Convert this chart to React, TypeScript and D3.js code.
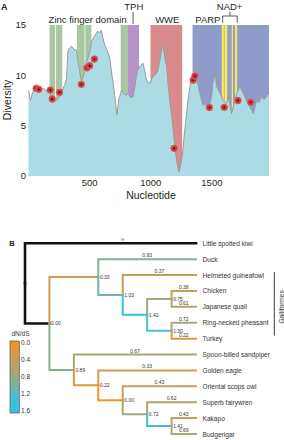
import * as d3 from "d3";

// ---- Panel A data: nucleotide diversity along the gene ----
const nucleotide = [
  0, 8, 16, 41, 57, 90, 123, 156, 172, 189, 213, 238, 262, 279, 295, 311, 322, 336, 352, 369,
  391, 402, 418, 432, 451, 467, 484, 500, 516, 541, 566, 582, 596, 607, 623, 639, 664, 680, 691,
  705, 718, 723, 738, 746, 762, 773, 795, 814, 836, 855, 869, 883, 893, 910, 937, 951, 965, 978,
  992, 1019, 1041, 1060, 1074, 1088, 1101, 1115, 1129, 1139, 1156, 1168, 1183, 1197, 1211, 1221,
  1230, 1240, 1252, 1262, 1275, 1287, 1303, 1320, 1347, 1361, 1375, 1402, 1426, 1443, 1470, 1498,
  1508, 1525, 1539, 1566, 1593, 1620, 1634, 1661, 1682, 1702, 1730, 1757, 1779, 1798, 1820, 1839,
  1866, 1885, 1907, 1926, 1948, 1967,
];
const diversity = [
  8.5, 8.0, 7.5, 8.6, 8.8, 8.5, 8.7, 8.4, 8.3, 7.8, 7.4, 7.6, 8.1, 8.6, 9.0, 9.6, 12.4, 12.7, 12.9,
  12.6, 12.5, 11.6, 10.4, 9.4, 10.0, 11.2, 11.6, 12.3, 13.4, 13.9, 14.4, 14.2, 14.5, 13.8, 13.0,
  12.6, 11.8, 10.2, 9.4, 8.0, 6.6, 6.1, 7.6, 7.9, 8.5, 8.3, 8.0, 8.2, 7.8, 7.9, 8.8, 9.9, 10.5,
  10.9, 11.2, 10.4, 9.5, 9.4, 9.2, 9.9, 10.1, 10.5, 11.5, 12.5, 13.0, 11.8, 10.9, 9.4, 7.5, 6.2,
  4.6, 3.0, 1.6, 0.9, 0.4, 0.8, 1.6, 2.5, 4.2, 5.5, 7.4, 8.9, 10.2, 9.9, 9.7, 8.2, 7.0, 7.2, 6.6,
  7.9, 9.2, 10.2, 8.9, 8.2, 7.5, 7.2, 7.9, 6.2, 7.2, 8.2, 8.9, 8.2, 7.6, 7.2, 6.6, 6.2, 7.5, 7.3,
  7.9, 7.6, 7.9, 8.2,
];

// sites under selection (red dots)
const siteNt = [63, 84, 178, 194, 254, 432, 478, 500, 539, 1191, 1347, 1361, 1480, 1601, 1713, 1817];
const siteDiv = [8.71, 8.61, 8.54, 7.65, 8.31, 9.11, 10.75, 10.95, 11.62, 2.75, 9.53, 9.93, 6.8, 6.82, 7.5, 7.32];

// protein domains
const bandStart = [172, 224, 396, 465, 754, 814, 998, 1342, 1580, 1603, 1662, 1688];
const bandEnd = [217, 276, 459, 514, 814, 904, 1257, 1967, 1598, 1626, 1673, 1706];
const bandKind = ["zinc", "zinc", "zinc", "zinc", "zinc", "tph", "wwe", "parp", "nad", "nad", "nad", "nad"];

const domainLabels = ["Zinc finger domain", "TPH", "WWE", "PARP", "NAD+"];
const domainLabelNt = [484, 861, 1135, 1467, 1645];
const domainLabelRow = [1, 0, 1, 1, 0];
const nadBracket = [1588, 1707];

const xTicksA = [500, 1000, 1500];
const yTicksA = [0, 5, 10, 15];

// ---- Panel B data: dN/dS on the bird tree ----
type Row = [string, string | null, number | null];
const cladeRows: Row[] = [
  ["root", null, null],
  ["Little spotted kiwi", "root", Infinity],
  ["n0", "root", 0.0],
  ["n1", "n0", 0.33],
  ["Duck", "n1", 0.93],
  ["n2", "n1", 1.03],
  ["Helmeted guineafowl", "n2", 0.37],
  ["n3", "n2", 1.42],
  ["n4", "n3", 0.75],
  ["Chicken", "n4", 0.38],
  ["Japanese quail", "n4", 0.61],
  ["n5", "n3", 1.3],
  ["Ring-necked pheasant", "n5", 0.72],
  ["Turkey", "n5", 0.22],
  ["n6", "n0", 0.89],
  ["Spoon-billed sandpiper", "n6", 0.67],
  ["n7", "n6", 0.22],
  ["Golden eagle", "n7", 0.33],
  ["n8", "n7", 0.0],
  ["Oriental scops owl", "n8", 0.43],
  ["n9", "n8", 0.72],
  ["Superb fairywren", "n9", 0.62],
  ["n10", "n9", 1.41],
  ["Kakapo", "n10", 0.43],
  ["Budgerigar", "n10", 0.69],
];
const galliformes = ["Helmeted guineafowl", "Turkey"];
const legendTicks = [0, 0.4, 0.8, 1.2, 1.6];

const bandColor: Record<string, string> = {
  zinc: "#a8c7a2",
  tph: "#b592c8",
  wwe: "#d98b8b",
  parp: "#8f9bc9",
  nad: "#f6ea5a",
};
const font = "'Liberation Sans', Arial, sans-serif";

const dndsColor = d3
  .scaleLinear<string>()
  .domain([0, 0.4, 0.8, 1.2, 1.6])
  .range(["#f6921e", "#c99d5a", "#9aab80", "#50bdca", "#2bc3ee"]);

function PanelA() {
  const x = d3.scaleLinear().domain([0, 1967]).range([28.5, 269]);
  const y = d3.scaleLinear().domain([0, 15]).range([176, 25]);
  const pts = nucleotide.map((n, i) => [n, diversity[i]] as [number, number]);
  const area = d3.area<[number, number]>().x((d) => x(d[0])).y0(y(0)).y1((d) => y(d[1]));
  const line = d3.line<[number, number]>().x((d) => x(d[0])).y((d) => y(d[1]));

  return (
    <g fontFamily={font} fill="#231f20">
      <text x={1} y={9.5} fontSize={9} fontWeight="bold">A</text>
      {bandStart.map((s, i) => (
        <rect key={i} x={x(s)} y={y(15)} width={x(bandEnd[i]) - x(s)} height={y(0) - y(15)}
          fill={bandColor[bandKind[i]]} />
      ))}
      <path d={area(pts) ?? ""} fill="#acdbe6" />
      <path d={line(pts) ?? ""} fill="none" stroke="#9b9b9b" strokeWidth={1} />
      {siteNt.map((n, i) => (
        <g key={i}>
          <circle cx={x(n)} cy={y(siteDiv[i])} r={3.4} fill="#d03a3a" stroke="#e26a6a" strokeWidth={0.6} />
          <circle cx={x(n)} cy={y(siteDiv[i])} r={0.9} fill="#111" />
        </g>
      ))}
      {domainLabels.map((t, i) => (
        <text key={t} x={x(domainLabelNt[i])} y={domainLabelRow[i] ? 22.7 : 10} fontSize={9.5}
          textAnchor="middle">{t}</text>
      ))}
      <line x1={x(domainLabelNt[1]) - 0.7} x2={x(domainLabelNt[1]) - 0.7} y1={12} y2={24}
        stroke="#333" strokeWidth={0.8} />
      <path
        d={`M${x(nadBracket[0])},22.7V16H${x(nadBracket[1])}V22.7M${x((nadBracket[0] + nadBracket[1]) / 2)},16V12`}
        fill="none" stroke="#333" strokeWidth={0.8} />
      {yTicksA.map((t) => (
        <text key={t} x={26} y={y(t) + 3.4} fontSize={9.5} textAnchor="end">{t}</text>
      ))}
      {xTicksA.map((t) => (
        <text key={t} x={x(t)} y={185.5} fontSize={9.5} textAnchor="middle">{t}</text>
      ))}
      <text x={151} y={199} fontSize={10.5} textAnchor="middle">Nucleotide</text>
      <text transform="translate(7,100) rotate(-90)" fontSize={10.5} textAnchor="middle"
        dominantBaseline="central">Diversity</text>
    </g>
  );
}

function PanelB() {
  const root = d3.stratify<Row>().id((d) => d[0]).parentId((d) => d[1])(cladeRows);
  d3.cluster<Row>().nodeSize([1, 1]).separation(() => 1)(root);
  const leaves = root.leaves();
  const minX = d3.min(leaves, (d) => d.x as number) as number;
  const ty = d3.scaleLinear().domain([minX, minX + leaves.length - 1]).range([243.3, 434]);
  const tx = d3.scaleLinear().domain([0, d3.max(leaves, (d) => d.y as number) as number]).range([25, 196]);
  const nodes = root.descendants().filter((d) => d.parent);
  const fmt = (v: number) => (v === Infinity ? "∞" : v.toFixed(2));
  const legendY = d3.scaleLinear().domain([0, 1.6]).range([342.6, 410.8]);
  const gy = galliformes.map((n) => ty(leaves.find((l) => l.id === n)!.x as number));

  return (
    <g fontFamily={font}>
      <defs>
        <linearGradient id="dnds" x1="0" x2="0" y1="0" y2="1">
          {legendTicks.map((t) => (
            <stop key={t} offset={t / 1.6} stopColor={dndsColor(t)} />
          ))}
        </linearGradient>
      </defs>
      <text x={9.3} y={246} fontSize={7.5} fontWeight="bold" fill="#231f20">B</text>
      {nodes.map((d) => {
        const p = d.parent!;
        const black = p.parent === null;
        return (
          <path key={d.id}
            d={`M${tx(p.y as number)},${ty(p.x as number)}V${ty(d.x as number)}H${tx(d.y as number)}`}
            fill="none" stroke={black ? "#111" : dndsColor(d.data[2] as number)}
            strokeWidth={black ? 2.6 : 2} strokeLinecap="square" />
        );
      })}
      {nodes.map((d) => {
        const p = d.parent!;
        const v = d.data[2] as number;
        // the kiwi branch label sits right of the branch centre in the reference
        const mid = (tx(p.y as number) + tx(d.y as number)) / 2 + (v === Infinity ? 12 : 0);
        return d.children ? (
          <text key={d.id} x={tx(d.y as number) + 1.6} y={ty(d.x as number) + 1.8} fontSize={5}
            fill="#333">{fmt(v)}</text>
        ) : (
          <text key={d.id} x={mid} y={ty(d.x as number) - 2}
            fontSize={5} textAnchor="middle" fill="#333">{fmt(v)}</text>
        );
      })}
      {leaves.map((d) => (
        <text key={d.id} x={202.5} y={ty(d.x as number)} fontSize={6.6} fill="#333"
          dominantBaseline="central">{d.id}</text>
      ))}
      <line x1={274.3} x2={274.3} y1={gy[0] - 3} y2={gy[1] - 3} stroke="#222" strokeWidth={0.9} />
      <text transform={`translate(281,${(gy[0] + gy[1]) / 2}) rotate(-90)`} fontSize={6.6}
        textAnchor="middle" dominantBaseline="central" fill="#333">Galliformes</text>
      <text x={20.5} y={336} fontSize={6.5} textAnchor="middle" fill="#333">dN/dS</text>
      <rect x={10} y={341} width={9.3} height={72} fill="url(#dnds)" stroke="#555" strokeWidth={0.7} />
      {legendTicks.map((t) => (
        <text key={t} x={21} y={legendY(t)} fontSize={6.5} fill="#333" dominantBaseline="central">
          {t.toFixed(1)}
        </text>
      ))}
    </g>
  );
}

export default function App() {
  return (
    <svg width={284} height={440} style={{ position: "absolute", left: 0, top: 0, background: "#fff" }}>
      <PanelA />
      <PanelB />
    </svg>
  );
}
